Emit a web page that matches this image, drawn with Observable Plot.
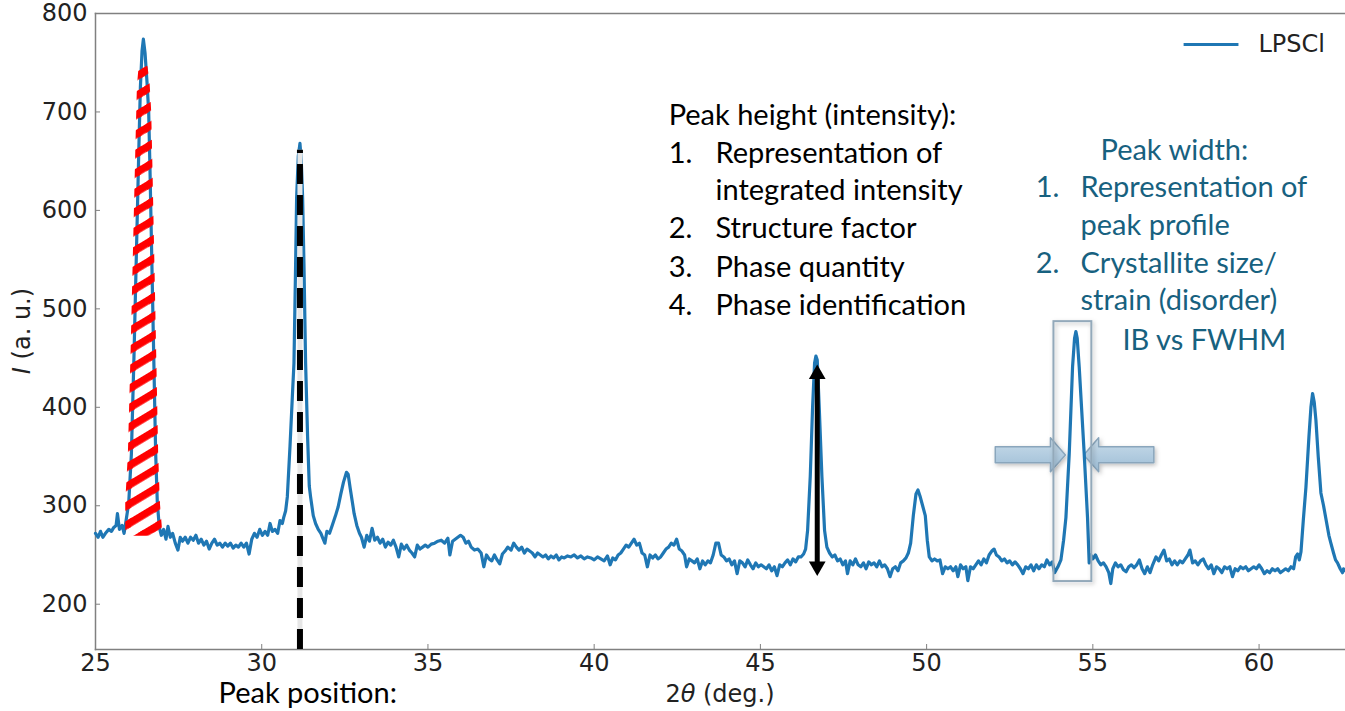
<!DOCTYPE html>
<html><head><meta charset="utf-8">
<script src="https://cdn.jsdelivr.net/npm/d3@7"></script>
<script src="https://cdn.jsdelivr.net/npm/@observablehq/plot@0.6"></script>
<style>html,body{margin:0;padding:0;background:#fff;overflow:hidden}#chart svg{display:block}</style>
</head><body><div id="chart"></div>
<script>
// XRD scan of LPSCl: [2θ (deg.), I (a.u.)]
const scan = [
[25.00,272],[25.08,268],[25.15,274],[25.22,268],[25.30,272],[25.40,276],[25.48,274],[25.55,278],[25.62,280],[25.66,292],
[25.72,276],[25.80,280],[25.86,272],[25.92,285],[26.00,303],[26.08,353],[26.16,455],[26.23,556],[26.30,657],[26.35,725],
[26.40,762],[26.44,774],[26.49,760],[26.55,730],[26.60,700],[26.64,640],[26.69,556],[26.75,455],[26.81,353],[26.86,303],
[26.92,278],[26.98,270],[27.05,276],[27.12,266],[27.18,279],[27.25,268],[27.32,272],[27.40,262],[27.48,255],[27.55,268],
[27.62,264],[27.70,268],[27.78,262],[27.86,268],[27.94,265],[28.02,270],[28.10,262],[28.18,266],[28.26,260],[28.34,264],
[28.42,256],[28.50,262],[28.58,266],[28.66,260],[28.74,262],[28.82,258],[28.90,262],[28.98,259],[29.06,262],[29.14,257],
[29.22,260],[29.30,258],[29.38,262],[29.46,258],[29.54,262],[29.62,251],[29.70,266],[29.78,272],[29.86,268],[29.94,276],
[30.02,270],[30.10,274],[30.18,270],[30.25,282],[30.32,274],[30.40,276],[30.48,272],[30.55,285],[30.62,282],[30.66,288],
[30.72,295],[30.77,309],[30.85,360],[30.92,410],[30.97,445],[31.02,546],[31.05,613],[31.10,655],[31.15,668],[31.19,650],
[31.23,613],[31.27,546],[31.32,445],[31.38,370],[31.43,320],[31.47,309],[31.55,290],[31.62,282],[31.70,276],[31.78,272],
[31.85,266],[31.90,262],[31.96,274],[32.04,272],[32.12,280],[32.22,290],[32.30,299],[32.38,312],[32.46,324],[32.55,334],
[32.60,332],[32.66,318],[32.72,305],[32.78,292],[32.86,280],[32.94,272],[33.00,268],[33.08,258],[33.16,270],[33.24,264],
[33.32,277],[33.40,265],[33.48,268],[33.56,262],[33.64,266],[33.72,258],[33.80,263],[33.88,260],[33.96,265],[34.04,258],
[34.12,248],[34.20,261],[34.28,256],[34.36,260],[34.44,255],[34.52,252],[34.60,248],[34.68,260],[34.76,256],[34.84,258],
[34.92,260],[35.00,258],[35.10,261],[35.20,262],[35.30,264],[35.40,265],[35.50,262],[35.60,267],[35.66,250],[35.74,264],
[35.82,266],[35.90,268],[35.98,270],[36.06,268],[36.14,262],[36.22,264],[36.30,258],[36.40,255],[36.50,256],[36.60,252],
[36.68,238],[36.76,250],[36.84,246],[36.92,244],[37.00,250],[37.08,245],[37.16,241],[37.24,251],[37.32,254],[37.40,258],
[37.50,255],[37.58,262],[37.66,258],[37.74,255],[37.82,258],[37.90,252],[37.98,256],[38.06,254],[38.14,252],[38.22,248],
[38.30,252],[38.38,250],[38.46,248],[38.54,250],[38.62,246],[38.70,249],[38.78,247],[38.86,250],[38.94,245],[39.02,248],
[39.10,247],[39.20,249],[39.30,248],[39.40,250],[39.50,247],[39.60,249],[39.70,246],[39.80,248],[39.90,247],[40.00,245],
[40.10,248],[40.20,246],[40.30,244],[40.40,249],[40.48,240],[40.56,247],[40.64,245],[40.72,250],[40.80,252],[40.88,256],
[40.96,260],[41.04,258],[41.12,262],[41.20,266],[41.28,260],[41.36,262],[41.44,252],[41.52,250],[41.60,238],[41.68,250],
[41.76,247],[41.84,250],[41.92,246],[42.00,248],[42.08,252],[42.16,256],[42.24,258],[42.32,262],[42.40,260],[42.48,266],
[42.56,256],[42.64,254],[42.72,250],[42.78,238],[42.86,246],[42.94,244],[43.02,242],[43.10,246],[43.18,236],[43.26,244],
[43.34,240],[43.42,244],[43.50,242],[43.58,250],[43.66,262],[43.74,262],[43.82,250],[43.90,248],[43.98,244],[44.06,246],
[44.14,240],[44.22,244],[44.30,231],[44.38,244],[44.46,242],[44.54,238],[44.62,245],[44.70,240],[44.78,236],[44.86,242],
[44.94,238],[45.02,240],[45.10,238],[45.18,236],[45.26,240],[45.34,234],[45.42,238],[45.50,229],[45.58,240],[45.66,238],
[45.74,242],[45.82,245],[45.90,240],[45.98,246],[46.06,243],[46.14,248],[46.22,248],[46.30,251],[46.36,256],[46.42,275],
[46.50,330],[46.57,400],[46.63,445],[46.67,452],[46.71,448],[46.77,400],[46.85,330],[46.93,275],[47.00,258],[47.08,252],
[47.16,248],[47.24,250],[47.32,244],[47.40,246],[47.48,240],[47.56,244],[47.62,231],[47.70,244],[47.78,240],[47.86,246],
[47.94,240],[48.02,238],[48.10,242],[48.18,236],[48.26,243],[48.34,240],[48.42,242],[48.50,238],[48.58,244],[48.66,238],
[48.74,240],[48.82,236],[48.90,228],[48.98,236],[49.06,238],[49.14,234],[49.22,242],[49.30,244],[49.38,247],[49.45,252],
[49.52,262],[49.60,290],[49.68,312],[49.74,316],[49.80,310],[49.88,300],[49.96,290],[50.02,265],[50.08,248],[50.16,244],
[50.24,246],[50.32,244],[50.40,245],[50.48,231],[50.56,238],[50.64,236],[50.72,238],[50.80,234],[50.88,238],[50.94,228],
[51.02,240],[51.10,236],[51.18,238],[51.24,224],[51.32,238],[51.40,236],[51.48,240],[51.56,244],[51.64,240],[51.72,246],
[51.80,242],[51.88,250],[51.96,254],[52.03,256],[52.10,250],[52.18,248],[52.26,244],[52.34,246],[52.42,242],[52.50,244],
[52.58,240],[52.66,243],[52.74,240],[52.82,236],[52.90,231],[52.98,238],[53.06,236],[53.14,240],[53.22,234],[53.30,240],
[53.38,236],[53.46,240],[53.54,238],[53.62,245],[53.70,240],[53.78,243],[53.85,232],[53.95,238],[54.04,245],[54.12,265],
[54.19,288],[54.29,353],[54.39,441],[54.45,470],[54.49,477],[54.53,470],[54.59,441],[54.66,400],[54.74,353],[54.84,288],
[54.89,242],[54.94,250],[55.00,246],[55.08,250],[55.16,244],[55.24,240],[55.32,242],[55.40,238],[55.48,232],[55.54,221],
[55.60,236],[55.68,242],[55.76,238],[55.84,240],[55.92,235],[56.00,233],[56.08,238],[56.16,240],[56.24,237],[56.32,240],
[56.40,245],[56.48,236],[56.56,231],[56.64,238],[56.72,232],[56.80,240],[56.90,248],[56.98,244],[57.06,250],[57.14,255],
[57.22,244],[57.30,246],[57.38,240],[57.46,244],[57.54,240],[57.62,244],[57.70,242],[57.78,246],[57.86,250],[57.92,255],
[58.00,242],[58.08,244],[58.16,240],[58.24,244],[58.32,246],[58.40,240],[58.48,236],[58.56,240],[58.64,231],[58.72,238],
[58.80,236],[58.88,232],[58.96,238],[59.04,236],[59.12,238],[59.20,228],[59.28,236],[59.36,234],[59.44,238],[59.52,236],
[59.60,238],[59.68,234],[59.76,236],[59.84,238],[59.92,236],[60.00,240],[60.08,236],[60.16,231],[60.24,234],[60.32,232],
[60.40,236],[60.48,234],[60.56,236],[60.64,232],[60.72,234],[60.80,236],[60.88,234],[60.96,238],[61.04,236],[61.10,248],
[61.16,251],[61.21,245],[61.26,253],[61.33,285],[61.41,319],[61.50,370],[61.56,400],[61.61,414],[61.66,405],[61.71,387],
[61.78,350],[61.86,313],[61.94,300],[62.02,285],[62.10,270],[62.16,262],[62.24,252],[62.30,245],[62.36,242],[62.44,236],
[62.51,232],[62.54,236],[62.60,234]
];
const xTicks = [25, 30, 35, 40, 45, 50, 55, 60];
const yTicks = [200, 300, 400, 500, 600, 700, 800];
const seriesName = "LPSCl";
const hatchedPeak = {from: 25.93, to: 26.92, base: 272, top: 745};
const positionMarker = [{x: 31.15, y1: 154, y2: 661}];
const heightArrow = [{x: 46.71, y1: 238, y2: 434, tipLow: 238.4, tipHigh: 433.6}];
const widthBox = [{x1: 53.83, x2: 54.97, y1: 223, y2: 487}];
const leftBlockArrow = [{x: 52.08, lo: 343.1, hi: 359.4}, {x: 53.74, lo: 343.1, hi: 359.4}, {x: 53.74, lo: 334, hi: 368.5}, {x: 54.19, lo: 351, hi: 351}];
const rightBlockArrow = [{x: 54.74, lo: 351, hi: 351}, {x: 55.19, lo: 334, hi: 368.5}, {x: 55.19, lo: 343.1, hi: 359.4}, {x: 56.85, lo: 343.1, hi: 359.4}];
const legendItem = [{x1: 57.73, x2: 59.38, y: 768.5, tx: 59.98, label: seriesName}];
const notesBlack = [
  {x: 42.24, y: 696.4, t: "Peak height (intensity):"},
  {x: 42.24, y: 657.8, t: "1."}, {x: 43.65, y: 657.8, t: "Representation of"},
  {x: 43.65, y: 620.2, t: "integrated intensity"},
  {x: 42.24, y: 581.6, t: "2."}, {x: 43.65, y: 581.6, t: "Structure factor"},
  {x: 42.24, y: 542.0, t: "3."}, {x: 43.65, y: 542.0, t: "Phase quantity"},
  {x: 42.24, y: 503.4, t: "4."}, {x: 43.65, y: 503.4, t: "Phase identification"},
  {x: 28.70, y: 109.3, t: "Peak position:"}
];
const notesBlue = [
  {x: 55.23, y: 660.8, t: "Peak width:"},
  {x: 53.28, y: 623.3, t: "1."}, {x: 54.63, y: 623.3, t: "Representation of"},
  {x: 54.63, y: 584.7, t: "peak profile"},
  {x: 53.28, y: 546.1, t: "2."}, {x: 54.63, y: 546.1, t: "Crystallite size/"},
  {x: 54.63, y: 508.5, t: "strain (disorder)"},
  {x: 55.89, y: 467.9, t: "IB vs FWHM"}
];

const BLUE = "#1f77b4";
const NOTE_BLUE = "#17617f";
const AXIS = "#808080";

const triUp = {draw(ctx, size) {const a = Math.sqrt(size * 4 / Math.sqrt(3)), h = a * Math.sqrt(3) / 2; ctx.moveTo(0, -2*h/3); ctx.lineTo(a/2, h/3); ctx.lineTo(-a/2, h/3); ctx.closePath();}};
const triDown = {draw(ctx, size) {const a = Math.sqrt(size * 4 / Math.sqrt(3)), h = a * Math.sqrt(3) / 2; ctx.moveTo(0, 2*h/3); ctx.lineTo(a/2, -h/3); ctx.lineTo(-a/2, -h/3); ctx.closePath();}};

const peakPart = scan.filter(d => d[0] >= hatchedPeak.from && d[0] <= hatchedPeak.to);

const chart = Plot.plot({
  width: 1345, height: 711,
  marginLeft: 95, marginRight: 0, marginTop: 13, marginBottom: 62,
  style: {fontFamily: "DejaVu Sans", fontSize: "24px", color: "#222", background: "#fff"},
  x: {domain: [25, 62.6]},
  y: {domain: [154, 800]},
  marks: [
    Plot.frame({anchor: "top", stroke: AXIS, strokeWidth: 1.5}),
    Plot.frame({anchor: "left", stroke: AXIS, strokeWidth: 1.5}),
    Plot.frame({anchor: "bottom", stroke: AXIS, strokeWidth: 1.5}),
    Plot.axisX({ticks: xTicks, tickSize: 5, dy: -5, tickFormat: () => "", label: null, stroke: AXIS}),
    Plot.axisX({ticks: xTicks, tickSize: 0, tickPadding: 4, label: null, fontSize: 24}),
    Plot.axisY({ticks: yTicks, tickSize: 5, dx: 5, tickFormat: () => "", label: null, stroke: AXIS}),
    Plot.axisY({ticks: yTicks, tickSize: 0, tickPadding: 8, label: null, fontSize: 24}),
    Plot.areaY(leftBlockArrow, {x: "x", y1: "lo", y2: "hi", fill: "url(#arrowGrad)", stroke: "#8aa6bc", strokeWidth: 1.5, className: "shadowed"}),
    Plot.areaY(rightBlockArrow, {x: "x", y1: "lo", y2: "hi", fill: "url(#arrowGrad)", stroke: "#8aa6bc", strokeWidth: 1.5, className: "shadowed"}),
    Plot.line(scan, {x: d => d[0], y: d => d[1], stroke: BLUE, strokeWidth: 3.2, strokeLinejoin: "round"}),
    Plot.rect(widthBox, {x1: "x1", x2: "x2", y1: "y1", y2: "y2", fill: "none", stroke: "#93a9ba", strokeWidth: 2, className: "shadowed"}),
    Plot.areaY(peakPart, {x: d => d[0], y1: hatchedPeak.base, y2: d => Math.min(d[1], hatchedPeak.top), fill: "url(#hatch)", stroke: "url(#hatch)", strokeWidth: 6, strokeLinejoin: "round"}),
    Plot.ruleX(positionMarker, {x: "x", y1: "y1", y2: "y2", stroke: "#e6e6e6", strokeWidth: 5}),
    Plot.ruleX(positionMarker, {x: "x", y1: "y1", y2: "y2", stroke: "#000", strokeWidth: 6, strokeDasharray: "20,11"}),
    Plot.ruleX(heightArrow, {x: "x", y1: "y1", y2: "y2", stroke: "#000", strokeWidth: 5}),
    Plot.dot(heightArrow, {x: "x", y: "tipLow", symbol: triDown, r: 6.2, fill: "#000", stroke: "none"}),
    Plot.dot(heightArrow, {x: "x", y: "tipHigh", symbol: triUp, r: 6.2, fill: "#000", stroke: "none"}),
    Plot.link(legendItem, {x1: "x1", x2: "x2", y1: "y", y2: "y", stroke: BLUE, strokeWidth: 3}),
    Plot.text(legendItem, {x: "tx", y: "y", text: "label", textAnchor: "start", fontSize: 24, fill: "#222"}),
    Plot.text(notesBlack, {x: "x", y: "y", text: "t", textAnchor: "start", fontFamily: "Lato", fontSize: 29, fill: "#000"}),
    Plot.text(notesBlue, {x: "x", y: "y", text: "t", textAnchor: "start", fontFamily: "Lato", fontSize: 29, fill: NOTE_BLUE})
  ]
});

const svg = d3.select(chart);
const defs = svg.insert("defs", ":first-child");
const pat = defs.append("pattern").attr("id", "hatch").attr("patternUnits", "userSpaceOnUse")
  .attr("width", 16.5).attr("height", 16.5).attr("patternTransform", "rotate(-31)");
pat.append("rect").attr("x", 0).attr("y", 0).attr("width", 16.5).attr("height", 7.5).attr("fill", "#ff0000");
const grad = defs.append("linearGradient").attr("id", "arrowGrad").attr("x1", 0).attr("y1", 0).attr("x2", 0).attr("y2", 1);
grad.append("stop").attr("offset", "0%").attr("stop-color", "#c9dcea");
grad.append("stop").attr("offset", "100%").attr("stop-color", "#9dbdd6");
const flt = defs.append("filter").attr("id", "shadow").attr("x", "-20%").attr("y", "-20%").attr("width", "140%").attr("height", "140%");
flt.append("feDropShadow").attr("dx", 1.5).attr("dy", 2).attr("stdDeviation", 2).attr("flood-color", "#000").attr("flood-opacity", 0.25);
svg.selectAll(".shadowed").attr("filter", "url(#shadow)");

// axis titles (with italic symbols, as in the original)
const yl = svg.append("text").attr("transform", "translate(22,331) rotate(-90)")
  .attr("text-anchor", "middle").attr("dominant-baseline", "central")
  .attr("font-family", "DejaVu Sans").attr("font-size", 24).attr("fill", "#222");
yl.append("tspan").attr("font-style", "italic").text("I");
yl.append("tspan").text(" (a. u.)");
const xl = svg.append("text").attr("x", 720).attr("y", 702)
  .attr("text-anchor", "middle").attr("font-family", "DejaVu Sans").attr("font-size", 24).attr("fill", "#222");
xl.append("tspan").text("2");
xl.append("tspan").attr("font-style", "italic").text("θ");
xl.append("tspan").text(" (deg.)");

document.getElementById("chart").append(chart);
</script>
</body></html>
